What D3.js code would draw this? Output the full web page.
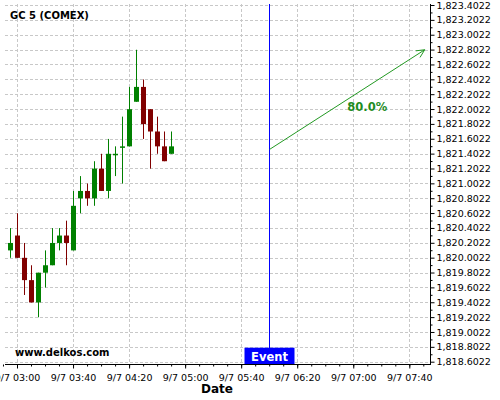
<!DOCTYPE html>
<html><head><meta charset="utf-8">
<script src="https://cdn.jsdelivr.net/npm/d3@7"></script>
<style>body{margin:0;background:#fff} svg{display:block} text{font-family:"DejaVu Sans",sans-serif}</style>
</head><body><svg id="c" width="500" height="400"></svg>
<script>
const times = ["02:55","03:00","03:05","03:10","03:15","03:20","03:25","03:30","03:35","03:40","03:45","03:50","03:55","04:00","04:05","04:10","04:15","04:20","04:25","04:30","04:35","04:40","04:45","04:50"];
const open  = [1820.1,1820.3,1820.0,1819.7,1819.4,1819.8,1819.9,1820.2,1820.3,1820.1,1820.8,1820.9,1820.8,1821.2,1820.9,1821.4,1821.5,1821.5,1822.1,1822.3,1822.0,1821.7,1821.5,1821.4];
const high  = [1820.4,1820.6,1820.2,1819.9,1819.8,1820.1,1820.4,1820.4,1820.5,1820.9,1821.1,1821.0,1821.3,1821.4,1821.6,1821.5,1821.9,1822.3,1822.8,1822.4,1822.0,1821.9,1821.7,1821.7];
const low   = [1820.0,1820.0,1819.5,1819.4,1819.2,1819.6,1819.9,1820.1,1819.9,1820.1,1820.6,1820.7,1820.7,1820.9,1820.8,1821.1,1821.0,1821.5,1822.1,1821.6,1821.2,1821.4,1821.3,1821.4];
const close = [1820.2,1820.0,1819.7,1819.4,1819.8,1819.9,1820.2,1820.3,1820.2,1820.7,1820.9,1820.8,1821.2,1820.9,1821.4,1821.4,1821.5,1822.0,1822.3,1821.8,1821.7,1821.5,1821.3,1821.5];
const xTicks = ["03:00","03:40","04:20","05:00","05:40","06:20","07:00","07:40"];
const yTicks = [1818.6022,1818.8022,1819.0022,1819.2022,1819.4022,1819.6022,1819.8022,1820.0022,1820.2022,1820.4022,1820.6022,1820.8022,1821.0022,1821.2022,1821.4022,1821.6022,1821.8022,1822.0022,1822.2022,1822.4022,1822.6022,1822.8022,1823.0022,1823.2022,1823.4022];
const eventTime = "06:00";
const arrowTimes = ["06:00","07:51"];
const arrowPrices = [1821.46,1822.80];
const forecastText = "80.0%";
const title = "GC 5 (COMEX)";
const watermark = "www.delkos.com";

const parse = s => new Date(Date.UTC(2021, 8, 7, +s.slice(0,2), +s.slice(3,5)));
const svg = d3.select("#c");
const x = d3.scaleUtc().domain([parse("03:00"), parse("07:40")]).range([17, 409.3]);
const y = d3.scaleLinear().domain([1818.6022, 1823.4022]).range([361.7, 5]);
const L = 5, R = 430, T = 4, B = 364;

// grid
const grid = svg.append("g").attr("stroke", "#c8c8c8").attr("stroke-dasharray", "3,2");
yTicks.forEach(v => {
  const yy = Math.round(y(v)) + 0.5;
  grid.append("line").attr("x1", L).attr("x2", R).attr("y1", yy).attr("y2", yy);
});
xTicks.forEach(t => {
  const xx = Math.round(x(parse(t))) + 0.5;
  grid.append("line").attr("x1", xx).attr("x2", xx).attr("y1", T).attr("y2", B);
});

// candles
const data = times.map((t, i) => ({t: parse(t), o: open[i], h: high[i], l: low[i], c: close[i]}));
const cg = svg.append("g");
data.forEach(d => {
  const up = d.c >= d.o;
  const col = up ? "#008000" : "#800000";
  const cx = Math.round(x(d.t));
  cg.append("line").attr("x1", cx + 0.5).attr("x2", cx + 0.5)
    .attr("y1", y(d.h)).attr("y2", y(d.l)).attr("stroke", col).attr("stroke-width", 1);
  const top = y(Math.max(d.o, d.c)), bot = y(Math.min(d.o, d.c));
  cg.append("rect").attr("x", cx - 2).attr("width", 5)
    .attr("y", top).attr("height", Math.max(1.5, bot - top)).attr("fill", col);
});

// axes
const yAxis = d3.axisRight(y).tickValues(yTicks).tickFormat(d3.format(",.4f")).tickSize(4).tickPadding(2);
const gy = svg.append("g").attr("transform", `translate(${R + 0.5},0)`).call(yAxis);
gy.select(".domain").remove();
gy.selectAll("text").attr("font-size", 9.5).attr("font-family", "DejaVu Sans").attr("fill", "#000");
const yMinor = yTicks.slice(0, -1).map(v => v + 0.1);
const gym = svg.append("g").attr("transform", `translate(${R + 0.5},0)`)
  .call(d3.axisRight(y).tickValues(yMinor).tickFormat("").tickSize(2));
gym.select(".domain").remove();

const xAxis = d3.axisBottom(x).tickValues(xTicks.map(parse)).tickFormat(d3.utcFormat("%-m/%-d %H:%M")).tickSize(4).tickPadding(6);
const gx = svg.append("g").attr("transform", `translate(0,${B + 0.5})`).call(xAxis);
gx.select(".domain").remove();
gx.selectAll("text").attr("font-size", 9.5).attr("font-family", "DejaVu Sans").attr("fill", "#000");
const xMinor = d3.utcMinute.every(10).range(parse("02:50"), parse("07:56"));
const gxm = svg.append("g").attr("transform", `translate(0,${B + 0.5})`)
  .call(d3.axisBottom(x).tickValues(xMinor).tickFormat("").tickSize(2));
gxm.select(".domain").remove();

svg.append("line").attr("x1", R + 0.5).attr("x2", R + 0.5).attr("y1", T).attr("y2", B + 1).attr("stroke", "#000");
svg.append("line").attr("x1", L).attr("x2", R + 1).attr("y1", B + 0.5).attr("y2", B + 0.5).attr("stroke", "#000");

// event
const ex = Math.round(x(parse(eventTime))) + 0.5;
svg.append("line").attr("x1", ex).attr("x2", ex).attr("y1", T).attr("y2", B).attr("stroke", "#0000ff");
svg.append("rect").attr("x", ex - 25).attr("y", 347.7).attr("width", 50).attr("height", B - 347.7).attr("fill", "#0000ff");
svg.append("text").attr("x", ex).attr("y", 361).attr("text-anchor", "middle")
  .attr("font-size", 11.5).attr("font-weight", "bold").attr("fill", "#fff").text("Event");

// forecast arrow
const ax1 = x(parse(arrowTimes[0])) + 0.5, ay1 = y(arrowPrices[0]);
const ax2 = x(parse(arrowTimes[1])), ay2 = y(arrowPrices[1]);
const ag = svg.append("g").attr("stroke", "#229922").attr("stroke-width", 1).attr("fill", "none");
ag.append("line").attr("x1", ax1).attr("y1", ay1).attr("x2", ax2).attr("y2", ay2);
const ang = Math.atan2(ay2 - ay1, ax2 - ax1), hl = 9, ha = 0.45;
ag.append("path").attr("d",
  `M${ax2 - hl * Math.cos(ang - ha)},${ay2 - hl * Math.sin(ang - ha)}L${ax2},${ay2}L${ax2 - hl * Math.cos(ang + ha)},${ay2 - hl * Math.sin(ang + ha)}`);
svg.append("text").attr("x", x(parse("07:10"))).attr("y", y(1821.976)).attr("text-anchor", "middle")
  .attr("font-size", 11.5).attr("font-weight", "bold").attr("fill", "#1f8c1f").text(forecastText);

// texts
svg.append("text").attr("x", 10).attr("y", 18.5).attr("font-size", 10).attr("font-weight", "bold").text(title);
svg.append("text").attr("x", 15).attr("y", 356).attr("font-size", 10).attr("font-weight", "bold").text(watermark);
svg.append("text").attr("x", 217).attr("y", 392.5).attr("text-anchor", "middle").attr("font-size", 12).attr("font-weight", "bold").text("Date");
</script></body></html>
